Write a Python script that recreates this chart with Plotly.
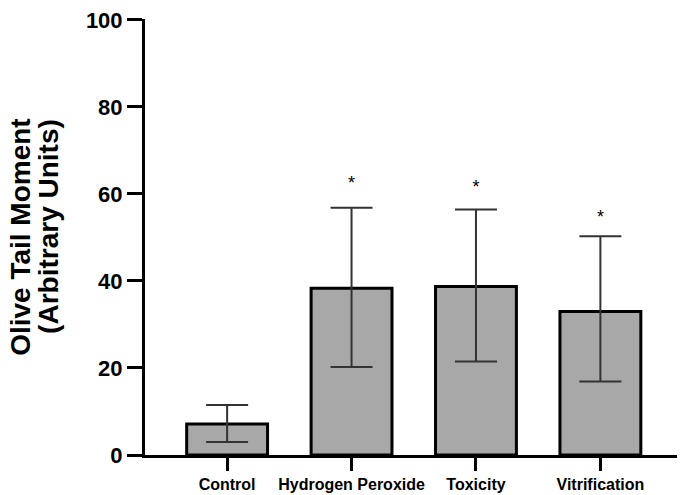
import plotly.graph_objects as go

# ── Data ──────────────────────────────────────────────────────────────────────
groups = ["Control", "Hydrogen Peroxide", "Toxicity", "Vitrification"]
mean_otm = [7.1, 38.3, 38.7, 33.0]
err_up = [4.4, 18.5, 17.7, 17.3]
err_down = [4.1, 18.1, 17.2, 16.1]
sig_y = [None, 62.1, 61.2, 54.3]
sig_mark = ["", "*", "*", "*"]
y_ticks = [0, 20, 40, 60, 80, 100]

FONT = "Arial, Liberation Sans, sans-serif"

fig = go.Figure()

fig.add_trace(go.Bar(
    x=groups, y=mean_otm,
    width=0.65,
    marker=dict(color="#a8a8a8", line=dict(color="black", width=3)),
    error_y=dict(type="data", symmetric=False, array=err_up, arrayminus=err_down,
                 color="#333333", thickness=2, width=21),
    showlegend=False,
))

# significance asterisks
fig.add_trace(go.Scatter(
    x=groups, y=sig_y, mode="text", text=sig_mark,
    textfont=dict(family=FONT, size=18, color="black"),
    showlegend=False,
))

# y title as two rotated lines (tighter line spacing than a <br>)
for txt, xp, yp in [("Olive Tail Moment", -0.231, 0.501),
                    ("(Arbitrary Units)", -0.179, 0.524)]:
    fig.add_annotation(
        text=f"<b>{txt}</b>", xref="paper", yref="paper", x=xp, y=yp,
        xanchor="center", yanchor="middle", textangle=-90, showarrow=False,
        font=dict(family=FONT, size=28, color="black"),
    )

# page body has an 8px margin, so the figure is a bit smaller than the window
fig.update_layout(
    width=677, height=487,
    paper_bgcolor="white", plot_bgcolor="white",
    margin=dict(l=137, r=0, t=8, b=40),
    font=dict(family=FONT, color="black"),
    xaxis=dict(range=[-0.66, 3.68], showline=True, linecolor="black", linewidth=3,
               ticks="outside", ticklen=13, tickwidth=3, tickcolor="black",
               tickfont=dict(family=FONT, size=16, color="black", weight="bold"),
               showgrid=False, zeroline=False),
    yaxis=dict(range=[0, 100.2], tickvals=y_ticks, showline=True, linecolor="black",
               linewidth=3, ticks="outside", ticklen=15, tickwidth=3,
               tickcolor="black", ticklabeloverflow="allow",
               tickfont=dict(family=FONT, size=22, color="black", weight="bold"),
               showgrid=False, zeroline=False),
)

fig.write_html("out.html")
